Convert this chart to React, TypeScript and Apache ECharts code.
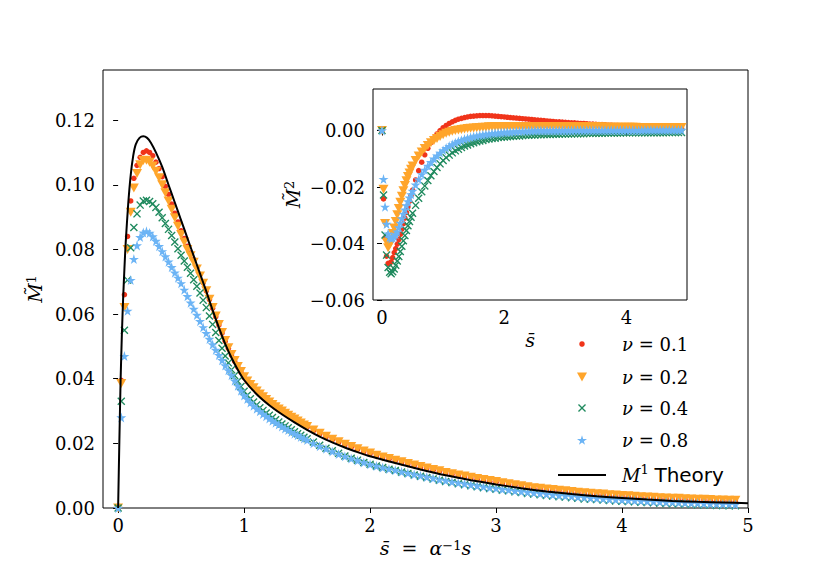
import React, { useEffect, useRef } from "react";
import * as echarts from "echarts";

// ---------- data ----------
const S = [
  0, 0.025, 0.05, 0.075, 0.1, 0.125, 0.15, 0.175, 0.2, 0.225, 0.25, 0.275, 0.3, 0.325, 0.35, 0.375, 0.4, 0.425, 0.45, 0.475, 0.5,
  0.55, 0.6, 0.65, 0.7, 0.75, 0.8, 0.85, 0.9, 0.95, 1.0,
  1.05, 1.1, 1.15, 1.2, 1.25, 1.3, 1.35, 1.4, 1.45, 1.5,
  1.55, 1.6, 1.65, 1.7, 1.75, 1.8, 1.85, 1.9, 1.95, 2.0,
  2.05, 2.1, 2.15, 2.2, 2.25, 2.3, 2.35, 2.4, 2.45, 2.5,
  2.55, 2.6, 2.65, 2.7, 2.75, 2.8, 2.85, 2.9, 2.95, 3.0,
  3.05, 3.1, 3.15, 3.2, 3.25, 3.3, 3.35, 3.4, 3.45, 3.5,
  3.55, 3.6, 3.65, 3.7, 3.75, 3.8, 3.85, 3.9, 3.95, 4.0,
  4.05, 4.1, 4.15, 4.2, 4.25, 4.3, 4.35, 4.4, 4.45, 4.5,
  4.55, 4.6, 4.65, 4.7, 4.75, 4.8, 4.85, 4.9,
];
// extra sample positions on the steep descending part of the main panel
const S_MID = [
  0.525, 0.575, 0.625, 0.675, 0.725, 0.775, 0.825, 0.875, 0.925, 0.975,
  1.025, 1.075, 1.125, 1.175, 1.225, 1.275, 1.325, 1.375, 1.425, 1.475,
];

// main panel: M~1
const M1_NU01 = [
  0, 0.0395, 0.066, 0.084, 0.095, 0.102, 0.106, 0.1085, 0.11, 0.1105, 0.11, 0.109, 0.107, 0.105, 0.1025, 0.0995, 0.097, 0.094, 0.0912, 0.0885, 0.0858,
  0.081, 0.0768, 0.0722, 0.0672, 0.0618, 0.0566, 0.0516, 0.0473, 0.0436, 0.0404,
  0.038, 0.036, 0.0342, 0.0326, 0.0311, 0.0298, 0.0285, 0.0273, 0.0261, 0.025,
  0.0239, 0.0229, 0.022, 0.0211, 0.0203, 0.0195, 0.0188, 0.0181, 0.0174, 0.0168,
  0.0161, 0.0156, 0.0151, 0.0146, 0.0141, 0.0136, 0.0131, 0.0126, 0.0122, 0.0117,
  0.0113, 0.0108, 0.0104, 0.01, 0.0097, 0.0093, 0.0089, 0.0086, 0.0083, 0.008,
  0.0076, 0.0073, 0.007, 0.0067, 0.0064, 0.0061, 0.0059, 0.0057, 0.0055, 0.0053,
  0.0051, 0.0049, 0.0047, 0.0045, 0.0044, 0.0042, 0.0041, 0.0039, 0.0038, 0.0037,
  0.0036, 0.0034, 0.0033, 0.0032, 0.0031, 0.003, 0.0029, 0.0028, 0.0028, 0.0027,
  0.0026, 0.0025, 0.0025, 0.0024, 0.0023, 0.0023, 0.0022, 0.0022,
];
const M1_NU01_MID = [
  0.0834, 0.0789, 0.0745, 0.0697, 0.0645, 0.0592, 0.0541, 0.0494, 0.0454, 0.042,
  0.0391, 0.037, 0.0351, 0.0334, 0.0318, 0.0304, 0.0291, 0.0279, 0.0267, 0.0255,
];
const M1_NU02 = [
  0, 0.0385, 0.062, 0.08, 0.0915, 0.099, 0.1035, 0.1062, 0.1075, 0.1076, 0.107, 0.1058, 0.1042, 0.1022, 0.1, 0.0975, 0.095, 0.0924, 0.0898, 0.0872, 0.0846,
  0.08, 0.076, 0.0718, 0.0672, 0.062, 0.0568, 0.0518, 0.0475, 0.0438, 0.0406,
  0.0382, 0.0362, 0.0344, 0.0328, 0.0313, 0.03, 0.0287, 0.0275, 0.0263, 0.0252,
  0.0241, 0.0231, 0.0222, 0.0213, 0.0205, 0.0197, 0.019, 0.0183, 0.0176, 0.017,
  0.0163, 0.0158, 0.0153, 0.0148, 0.0143, 0.0138, 0.0133, 0.0128, 0.0124, 0.0119,
  0.0115, 0.011, 0.0106, 0.0102, 0.0099, 0.0095, 0.0091, 0.0088, 0.0085, 0.0082,
  0.0078, 0.0075, 0.0072, 0.0069, 0.0066, 0.0063, 0.0061, 0.0059, 0.0057, 0.0055,
  0.0053, 0.0051, 0.0049, 0.0047, 0.0046, 0.0044, 0.0043, 0.0041, 0.004, 0.0039,
  0.0038, 0.0036, 0.0035, 0.0034, 0.0033, 0.0032, 0.0031, 0.003, 0.003, 0.0029,
  0.0028, 0.0027, 0.0027, 0.0026, 0.0025, 0.0025, 0.0024, 0.0024,
];
const M1_NU02_MID = [
  0.0823, 0.078, 0.0739, 0.0695, 0.0646, 0.0594, 0.0543, 0.0496, 0.0456, 0.0422,
  0.0393, 0.0372, 0.0353, 0.0336, 0.032, 0.0306, 0.0293, 0.0281, 0.0269, 0.0257,
];
const M1_NU04 = [
  0, 0.033, 0.055, 0.0705, 0.0805, 0.0868, 0.091, 0.0937, 0.095, 0.0952, 0.0948, 0.0941, 0.093, 0.0915, 0.0898, 0.088, 0.0862, 0.0843, 0.0823, 0.0802, 0.0782,
  0.0745, 0.0706, 0.0665, 0.062, 0.0568, 0.0518, 0.047, 0.0428, 0.0392, 0.0361,
  0.0338, 0.0319, 0.0302, 0.0287, 0.0273, 0.026, 0.0248, 0.0236, 0.0225, 0.0214,
  0.0204, 0.0194, 0.0185, 0.0177, 0.0169, 0.0161, 0.0154, 0.0148, 0.0141, 0.0135,
  0.013, 0.0125, 0.012, 0.0116, 0.0111, 0.0107, 0.0102, 0.0098, 0.0094, 0.009,
  0.0086, 0.0082, 0.0079, 0.0075, 0.0072, 0.0069, 0.0066, 0.0063, 0.006, 0.0058,
  0.0055, 0.0053, 0.005, 0.0048, 0.0045, 0.0043, 0.0041, 0.0039, 0.0037, 0.0035,
  0.0034, 0.0032, 0.003, 0.0028, 0.0027, 0.0026, 0.0025, 0.0023, 0.0022, 0.0021,
  0.002, 0.0019, 0.0018, 0.0017, 0.0016, 0.0015, 0.0014, 0.0013, 0.0013, 0.0012,
  0.0011, 0.001, 0.001, 0.0009, 0.0008, 0.0008, 0.0007, 0.0007,
];
const M1_NU04_MID = [
  0.0764, 0.0726, 0.0686, 0.0643, 0.0594, 0.0543, 0.0494, 0.0449, 0.041, 0.0376,
  0.0349, 0.0328, 0.031, 0.0294, 0.028, 0.0266, 0.0254, 0.0242, 0.023, 0.0219,
];
const M1_NU08 = [
  0, 0.028, 0.047, 0.061, 0.0705, 0.077, 0.0812, 0.0838, 0.0852, 0.0856, 0.0851, 0.084, 0.0826, 0.081, 0.0794, 0.0778, 0.0762, 0.0745, 0.0728, 0.0712, 0.0695,
  0.0655, 0.0616, 0.0578, 0.0541, 0.0506, 0.0473, 0.0441, 0.0411, 0.0378, 0.0348,
  0.0326, 0.0307, 0.0291, 0.0277, 0.0264, 0.0252, 0.0241, 0.023, 0.022, 0.021,
  0.02, 0.0191, 0.0183, 0.0175, 0.0167, 0.016, 0.0153, 0.0147, 0.0141, 0.0135,
  0.013, 0.0125, 0.0121, 0.0117, 0.0112, 0.0108, 0.0104, 0.01, 0.0096, 0.0092,
  0.0088, 0.0085, 0.0081, 0.0078, 0.0075, 0.0072, 0.0069, 0.0066, 0.0063, 0.0061,
  0.0058, 0.0056, 0.0053, 0.0051, 0.0049, 0.0047, 0.0045, 0.0043, 0.0041, 0.0039,
  0.0038, 0.0036, 0.0034, 0.0033, 0.0031, 0.003, 0.0029, 0.0027, 0.0026, 0.0025,
  0.0024, 0.0023, 0.0022, 0.0021, 0.002, 0.0019, 0.0018, 0.0018, 0.0017, 0.0016,
  0.0015, 0.0015, 0.0014, 0.0013, 0.0013, 0.0012, 0.0012, 0.0011,
];
const M1_NU08_MID = [
  0.0675, 0.0635, 0.0597, 0.0559, 0.0523, 0.0489, 0.0457, 0.0426, 0.0394, 0.0363,
  0.0337, 0.0316, 0.0299, 0.0284, 0.027, 0.0258, 0.0246, 0.0235, 0.0225, 0.0215,
];

// theory curve M1
const THEORY_S = [
  0, 0.01, 0.02, 0.03, 0.04, 0.05, 0.06, 0.08, 0.1, 0.12, 0.14, 0.17, 0.2, 0.23, 0.26, 0.3, 0.35, 0.4, 0.45, 0.5,
  0.55, 0.6, 0.65, 0.7, 0.75, 0.8, 0.85, 0.9, 0.95, 1.0, 1.1, 1.2, 1.3, 1.4, 1.5, 1.6, 1.7, 1.8, 1.9, 2.0,
  2.2, 2.4, 2.6, 2.8, 3.0, 3.2, 3.4, 3.6, 3.8, 4.0, 4.2, 4.4, 4.6, 4.8, 5.0,
];
const THEORY_M1 = [
  0, 0.021, 0.04, 0.054, 0.065, 0.074, 0.082, 0.094, 0.103, 0.109, 0.1125, 0.1145, 0.115, 0.1145, 0.113, 0.11, 0.1055, 0.1, 0.0945, 0.089,
  0.0835, 0.078, 0.0725, 0.067, 0.0612, 0.0558, 0.0508, 0.0465, 0.0428, 0.0396, 0.0352, 0.0318, 0.029, 0.0265, 0.0242, 0.0221, 0.0203, 0.0187, 0.0173, 0.016,
  0.0139, 0.0119, 0.0101, 0.0086, 0.0073, 0.0061, 0.0051, 0.0043, 0.0036, 0.0031, 0.0026, 0.0022, 0.0019, 0.0017, 0.0015,
];

// inset: M~2
const M2_NU01 = [
  0, -0.0242, -0.038, -0.0445, -0.047, -0.0472, -0.0465, -0.045, -0.0432, -0.0418, -0.0402, -0.0386, -0.0368, -0.0349, -0.033, -0.031, -0.029, -0.027, -0.025, -0.023, -0.0211,
  -0.0175, -0.0142, -0.0112, -0.0086, -0.0063, -0.0043, -0.0026, -0.0012, 0.0, 0.001,
  0.0018, 0.0025, 0.0031, 0.0036, 0.004, 0.0043, 0.0046, 0.0048, 0.005, 0.0051,
  0.0052, 0.0053, 0.0053, 0.0053, 0.0053, 0.0052, 0.0051, 0.005, 0.0049, 0.0048,
  0.0047, 0.0046, 0.0045, 0.0044, 0.0043, 0.0042, 0.0041, 0.004, 0.0039, 0.0038,
  0.0037, 0.0036, 0.0035, 0.0034, 0.0033, 0.0032, 0.0031, 0.0031, 0.003, 0.0029,
  0.0028, 0.0027, 0.0027, 0.0026, 0.0025, 0.0025, 0.0024, 0.0023, 0.0023, 0.0022,
  0.0021, 0.0021, 0.002, 0.0019, 0.0019, 0.0018, 0.0018, 0.0017, 0.0017, 0.0016,
  0.0016, 0.0015, 0.0015, 0.0014, 0.0014, 0.0013, 0.0013, 0.0012, 0.0012, 0.0012,
  0.0011, 0.0011, 0.0011, 0.001, 0.001, 0.001, 0.0009, 0.0009,
];
const M2_NU02 = [
  0, -0.0208, -0.0329, -0.0395, -0.0415, -0.0405, -0.0385, -0.0365, -0.0345, -0.0322, -0.0298, -0.0276, -0.0254, -0.0233, -0.0213, -0.0195, -0.0178, -0.0163, -0.015, -0.0137, -0.0126,
  -0.0106, -0.009, -0.0076, -0.0064, -0.0053, -0.0043, -0.0035, -0.0028, -0.0021, -0.0015,
  -0.001, -0.0006, -0.0003, 0.0, 0.0002, 0.0004, 0.0005, 0.0007, 0.0008, 0.0009,
  0.001, 0.0011, 0.0012, 0.0012, 0.0013, 0.0013, 0.0014, 0.0014, 0.0014, 0.0014,
  0.0014, 0.0014, 0.0014, 0.0014, 0.0014, 0.0014, 0.0014, 0.0014, 0.0014, 0.0014,
  0.0014, 0.0014, 0.0014, 0.0014, 0.0014, 0.0014, 0.0014, 0.0014, 0.0014, 0.0014,
  0.0014, 0.0014, 0.0013, 0.0013, 0.0013, 0.0013, 0.0013, 0.0013, 0.0013, 0.0013,
  0.0013, 0.0013, 0.0012, 0.0012, 0.0012, 0.0012, 0.0012, 0.0012, 0.0012, 0.0012,
  0.0012, 0.0012, 0.0012, 0.0011, 0.0011, 0.0011, 0.0011, 0.0011, 0.0011, 0.0011,
  0.0011, 0.0011, 0.0011, 0.0011, 0.0011, 0.0011, 0.0011, 0.0011,
];
const M2_NU04 = [
  0, -0.0228, -0.037, -0.0441, -0.0485, -0.0502, -0.0507, -0.05, -0.049, -0.0477, -0.0462, -0.0446, -0.0428, -0.041, -0.039, -0.0372, -0.0354, -0.0337, -0.0322, -0.0307, -0.0293,
  -0.0265, -0.024, -0.0217, -0.0196, -0.0177, -0.016, -0.0145, -0.0131, -0.0118, -0.0106,
  -0.0096, -0.0087, -0.0079, -0.0072, -0.0066, -0.006, -0.0055, -0.0051, -0.0047, -0.0043,
  -0.004, -0.0037, -0.0035, -0.0032, -0.003, -0.0028, -0.0027, -0.0025, -0.0024, -0.0023,
  -0.0022, -0.0021, -0.002, -0.0019, -0.0019, -0.0018, -0.0017, -0.0017, -0.0016, -0.0016,
  -0.0015, -0.0015, -0.0014, -0.0014, -0.0014, -0.0013, -0.0013, -0.0013, -0.0012, -0.0012,
  -0.0012, -0.0012, -0.0011, -0.0011, -0.0011, -0.0011, -0.001, -0.001, -0.001, -0.001,
  -0.001, -0.001, -0.0009, -0.0009, -0.0009, -0.0009, -0.0009, -0.0009, -0.0008, -0.0008,
  -0.0008, -0.0008, -0.0008, -0.0008, -0.0008, -0.0008, -0.0008, -0.0008, -0.0008, -0.0008,
  -0.0008, -0.0008, -0.0007, -0.0007, -0.0007, -0.0007, -0.0007, -0.0007,
];
const M2_NU08 = [
  0, -0.0172, -0.027, -0.0331, -0.0365, -0.0378, -0.0382, -0.038, -0.0375, -0.0368, -0.0358, -0.0343, -0.0327, -0.0311, -0.0295, -0.028, -0.0265, -0.0251, -0.0238, -0.0226, -0.0214,
  -0.0192, -0.0173, -0.0155, -0.0139, -0.0125, -0.0112, -0.01, -0.0089, -0.0079, -0.007,
  -0.0062, -0.0055, -0.0049, -0.0043, -0.0038, -0.0034, -0.003, -0.0027, -0.0024, -0.0021,
  -0.0019, -0.0017, -0.0015, -0.0013, -0.0012, -0.001, -0.0009, -0.0008, -0.0007, -0.0006,
  -0.0005, -0.0005, -0.0004, -0.0003, -0.0003, -0.0002, -0.0002, -0.0001, -0.0001, 0.0,
  0.0, 0.0, 0.0, 0.0, 0.0, 0.0, 0.0, 0.0, 0.0, 0.0,
  0.0, 0.0, 0.0001, 0.0001, 0.0001, 0.0001, 0.0001, 0.0001, 0.0001, 0.0001,
  0.0001, 0.0001, 0.0001, 0.0001, 0.0001, 0.0001, 0.0001, 0.0001, 0.0001, 0.0001,
  0.0001, 0.0001, 0.0001, 0.0001, 0.0001, 0.0002, 0.0002, 0.0002, 0.0002, 0.0002,
  0.0002, 0.0002, 0.0002, 0.0002, 0.0002, 0.0002, 0.0002, 0.0002,
];

const NU_LABELS = ["0.1", "0.2", "0.4", "0.8"];
const THEORY_LABEL = "Theory";
const MAIN_X_TICKS = [0, 1, 2, 3, 4, 5];
const MAIN_Y_TICKS = [0, 0.02, 0.04, 0.06, 0.08, 0.1, 0.12];
const INSET_X_TICKS = [0, 2, 4];
const INSET_Y_TICKS = [-0.06, -0.04, -0.02, 0];

// ---------- style ----------
const SERIF = "DejaVu Serif";
const SANS = "DejaVu Sans";
const COLORS = ["#f0341a", "#ffa52b", "#1f8a5e", "#6cb4f5"];
const SYM_TRI = "path://M0,0L10,0L5,9Z";
const SYM_X = "path://M0,1.2L1.2,0L5,3.8L8.8,0L10,1.2L6.2,5L10,8.8L8.8,10L5,6.2L1.2,10L0,8.8L3.8,5Z";
const SYM_STAR = "path://M50,0L61,35L98,35L68,57L79,91L50,70L21,91L32,57L2,35L39,35Z";
const SYMBOLS = ["circle", SYM_TRI, SYM_X, SYM_STAR];
const SYM_SIZES: any[] = [5.5, [10, 9], 8, 10];

const FS = 18;
const NFS = 19;
const RICH = {
  it: { fontFamily: SERIF, fontStyle: "italic", fontSize: NFS, color: "#000" },
  r: { fontFamily: SERIF, fontSize: NFS, color: "#000" },
  sup: { fontFamily: SERIF, fontSize: 13, color: "#000", verticalAlign: "top", lineHeight: 13 },
  lit: { fontFamily: SERIF, fontStyle: "italic", fontSize: FS, color: "#000" },
  lr: { fontFamily: SERIF, fontSize: FS, color: "#000" },
  sans: { fontFamily: SANS, fontSize: 20, color: "#000" },
};

const pairs = (xs: number[], ys: number[]) =>
  xs.slice(0, Math.min(xs.length, ys.length)).map((x, i) => [x, ys[i]]);

const fmtMain = (v: number) => v.toFixed(2);
const fmtInset = (v: number) => (v < -1e-9 ? "\u2212" : "") + Math.abs(v).toFixed(2);

function buildOption() {
  const mainData = [M1_NU01, M1_NU02, M1_NU04, M1_NU08];
  const mainMid = [M1_NU01_MID, M1_NU02_MID, M1_NU04_MID, M1_NU08_MID];
  const insetData = [M2_NU01, M2_NU02, M2_NU04, M2_NU08];
  const names = NU_LABELS.map((n) => "ν = " + n);

  const series: any[] = [];
  mainData.forEach((d, k) => {
    series.push({
      name: names[k],
      type: "scatter",
      xAxisIndex: 0,
      yAxisIndex: 0,
      data: pairs(S, d).concat(pairs(S_MID, mainMid[k])),
      symbol: SYMBOLS[k],
      symbolSize: SYM_SIZES[k],
      itemStyle: { color: COLORS[k], opacity: 1 },
      silent: true,
      z: 2 + k,
    });
  });
  series.push({
    name: "theory",
    type: "line",
    xAxisIndex: 0,
    yAxisIndex: 0,
    data: pairs(THEORY_S, THEORY_M1),
    showSymbol: false,
    smooth: 0.2,
    lineStyle: { color: "#000", width: 2 },
    itemStyle: { color: "#000" },
    silent: true,
    z: 10,
  });
  insetData.forEach((d, k) => {
    series.push({
      name: "inset " + names[k],
      type: "scatter",
      xAxisIndex: 1,
      yAxisIndex: 1,
      data: pairs(S, d),
      symbol: SYMBOLS[k],
      symbolSize: SYM_SIZES[k],
      itemStyle: { color: COLORS[k], opacity: 1 },
      silent: true,
      z: 2 + k,
    });
  });

  const tickStyle = { show: true, length: 5, lineStyle: { color: "#000", width: 1 } };
  const labelStyle = { fontFamily: SERIF, fontSize: FS, color: "#000" };

  const legendCenters = [344, 377, 408, 440, 475];
  const iconW = [5.5, 10, 8, 10];
  const iconH = [5.5, 9, 8, 10];
  const legendIcons = ["circle", SYM_TRI, SYM_X, SYM_STAR];
  const legends: any[] = names.map((n, k) => ({
    data: [{ name: n, icon: legendIcons[k] }],
    left: 582 - iconW[k] / 2,
    top: legendCenters[k] - 12,
    itemWidth: iconW[k],
    itemHeight: iconH[k],
    padding: 0,
    selectedMode: false,
    formatter: () => `{sp|}{lit|ν}{lr| = ${NU_LABELS[k]}}`,
    textStyle: {
      fontFamily: SERIF,
      fontSize: FS,
      lineHeight: 24,
      color: "#000",
      rich: { ...RICH, sp: { width: 622 - (582 - iconW[k] / 2 + iconW[k] + 5) } },
    },
  }));
  legends.push({
    data: [{ name: "theory", icon: "rect" }],
    left: 558,
    top: legendCenters[4] - 12,
    itemWidth: 48,
    itemHeight: 2,
    padding: 0,
    selectedMode: false,
    formatter: () => `{sp|}{lit|M}{sup|1}{lr| }{sans|${THEORY_LABEL}}`,
    textStyle: {
      fontFamily: SERIF,
      fontSize: FS,
      lineHeight: 24,
      color: "#000",
      rich: { ...RICH, sp: { width: 622 - (558 + 48 + 5) } },
    },
  });

  return {
    animation: false,
    backgroundColor: "#fff",
    textStyle: { fontFamily: SERIF },
    grid: [
      { left: 103, top: 70, width: 645, height: 438, show: true, borderColor: "#000", borderWidth: 1, backgroundColor: "transparent" },
      { left: 373, top: 89, width: 314, height: 211, show: true, borderColor: "#000", borderWidth: 1, backgroundColor: "#fff" },
    ],
    legend: legends,
    xAxis: [
      {
        gridIndex: 0,
        type: "value",
        min: -0.12,
        max: 5,
        axisLine: { show: false },
        splitLine: { show: false },
        axisTick: { ...tickStyle, customValues: MAIN_X_TICKS },
        axisLabel: { ...labelStyle, margin: 8, customValues: MAIN_X_TICKS, formatter: (v: number) => String(v) },
        name: "{it|s\u0304}{r|  =  }{it|α}{sup|\u22121}{it|s}",
        nameLocation: "middle",
        nameGap: 26,
        nameTextStyle: { fontFamily: SERIF, rich: RICH },
      },
      {
        gridIndex: 1,
        type: "value",
        min: -0.147,
        max: 4.99,
        axisLine: { show: false },
        splitLine: { show: false },
        axisTick: { ...tickStyle, customValues: INSET_X_TICKS },
        axisLabel: { ...labelStyle, margin: 8, customValues: INSET_X_TICKS, formatter: (v: number) => String(v) },
        name: "{it|s\u0304}",
        nameLocation: "middle",
        nameGap: 30,
        nameTextStyle: { fontFamily: SERIF, rich: RICH },
      },
    ],
    yAxis: [
      {
        gridIndex: 0,
        type: "value",
        min: 0,
        max: 0.1355,
        axisLine: { show: false },
        splitLine: { show: false },
        axisTick: { ...tickStyle, customValues: MAIN_Y_TICKS },
        axisLabel: { ...labelStyle, margin: 8, customValues: MAIN_Y_TICKS, formatter: fmtMain },
        name: "{it|M\u0303}{sup|1}",
        nameLocation: "middle",
        nameGap: 49,
        nameTextStyle: { fontFamily: SERIF, rich: RICH },
      },
      {
        gridIndex: 1,
        type: "value",
        min: -0.06,
        max: 0.0147,
        axisLine: { show: false },
        splitLine: { show: false },
        axisTick: { ...tickStyle, customValues: INSET_Y_TICKS },
        axisLabel: { ...labelStyle, margin: 8, customValues: INSET_Y_TICKS, formatter: fmtInset },
        name: "{it|M\u0303}{sup|2}",
        nameLocation: "middle",
        nameGap: 71,
        nameTextStyle: { fontFamily: SERIF, rich: RICH },
      },
    ],
    series,
  };
}

export default function App() {
  const ref = useRef<HTMLDivElement>(null);
  useEffect(() => {
    if (!ref.current) return;
    const chart = echarts.init(ref.current, undefined, { renderer: "svg" });
    chart.setOption(buildOption() as any);
    return () => chart.dispose();
  }, []);
  return (
    <div
      ref={ref}
      style={{ position: "absolute", left: 0, top: 0, width: 830, height: 581, background: "#fff" }}
    />
  );
}
